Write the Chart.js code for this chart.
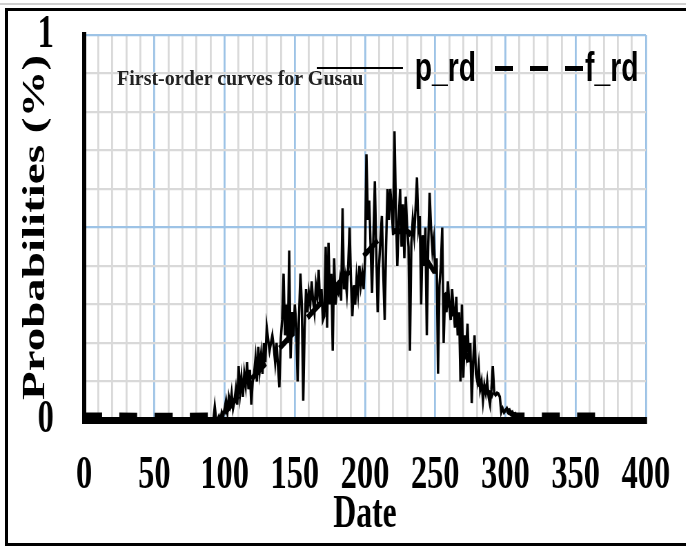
<!DOCTYPE html>
<html>
<head>
<meta charset="utf-8">
<script src="https://cdn.jsdelivr.net/npm/chart.js@4.4.0/dist/chart.umd.min.js"></script>
<style>
html,body{margin:0;background:#fff;width:686px;height:546px;overflow:hidden}
body{position:relative}
#grayline{position:absolute;left:0;top:3px;width:686px;height:2px;background:#cfcfcf}
#frame{position:absolute;left:5px;top:8px;width:681px;height:538px;box-sizing:border-box;border-top:3px solid #000;border-left:3px solid #000;border-bottom:3px solid #000}
#wrap{position:absolute;left:0;top:0;width:994px;height:546px;transform:scaleX(0.69);transform-origin:0 0}
#wrap canvas{position:absolute;left:0;top:0}
.lg{position:absolute;font-family:"Liberation Sans",Arial,sans-serif;font-weight:bold;font-size:41px;line-height:1;color:#000;white-space:nowrap}
#solid{position:absolute;left:459px;top:67px;width:125px;height:2px;background:#000}
#dashed{position:absolute;left:717px;top:65.5px;width:128px;height:5px;background:repeating-linear-gradient(to right,#000 0 26px,transparent 26px 51px)}
#legtitle{position:absolute;left:117px;top:68px;font-family:"Liberation Serif","Times New Roman",serif;font-weight:bold;font-size:20px;line-height:1;color:#222;white-space:nowrap}
</style>
</head>
<body>
<div id="grayline"></div>
<div id="frame"></div>
<div id="wrap">
  <canvas id="chart" width="994" height="546"></canvas>
  <div id="solid"></div>
  <div class="lg" style="left:601px;top:47px">p_rd</div>
  <div id="dashed"></div>
  <div class="lg" style="left:848px;top:47px">f_rd</div>
</div>
<div id="legtitle">First-order curves for Gusau</div>
<script>
// p_rd: one value per day, day 0 .. 365
const pRd = [
  0,0,0,0,0,0,0,0,0,0,
  0,0,0,0,0,0,0,0,0,0,
  0,0,0,0,0,0,0,0,0,0,
  0,0,0,0,0,0,0,0,0,0,
  0,0,0,0,0,0,0,0,0,0,
  0,0,0,0,0,0,0,0,0,0,
  0,0,0,0,0,0,0,0,0,0,
  0,0,0,0,0,0,0,0,0,0,
  0,0,0,0,0,0,0,0,0,0,
  0,0,0,0.035,0,0,0.01,0,0.02,0.01,
  0.03,0.05,0.02,0.06,0.04,0.07,0.03,0.05,0.08,0.04,
  0.14,0.07,0.11,0.06,0.12,0.09,0.15,0.08,0.13,0.04,
  0.10,0.12,0.16,0.10,0.19,0.13,0.17,0.12,0.20,0.15,
  0.24,0.21,0.18,0.20,0.22,0.19,0.15,0.20,0.14,0.085,
  0.21,0.26,0.38,0.22,0.30,0.20,0.44,0.16,0.28,0.22,
  0.30,0.25,0.10,0.27,0.38,0.30,0.05,0.24,0.34,0.28,
  0.33,0.30,0.36,0.31,0.28,0.35,0.32,0.39,0.30,0.34,
  0.26,0.27,0.45,0.24,0.46,0.30,0.38,0.18,0.42,0.30,
  0.34,0.33,0.36,0.31,0.55,0.34,0.37,0.33,0.40,0.50,
  0.36,0.27,0.35,0.30,0.37,0.33,0.40,0.35,0.38,0.34,
  0.42,0.69,0.52,0.57,0.45,0.33,0.48,0.62,0.44,0.28,
  0.40,0.47,0.53,0.38,0.26,0.45,0.60,0.52,0.60,0.55,
  0.48,0.75,0.55,0.40,0.52,0.60,0.45,0.56,0.42,0.58,
  0.50,0.45,0.18,0.46,0.52,0.48,0.55,0.63,0.50,0.53,
  0.30,0.48,0.40,0.50,0.22,0.45,0.59,0.50,0.44,0.47,
  0.38,0.42,0.12,0.35,0.40,0.50,0.20,0.33,0.28,0.36,
  0.30,0.26,0.34,0.29,0.24,0.32,0.22,0.28,0.10,0.30,
  0.11,0.22,0.18,0.25,0.15,0.20,0.044,0.15,0.22,0.12,
  0.10,0.14,0.08,0.10,0.05,0.09,0.07,0.10,0.06,0.04,
  0.08,0.14,0.07,0.065,0.07,0.068,0.06,0.02,0.03,0.02,
  0.025,0.03,0.02,0.025,0.015,0.02,0.01,0.015,0.005,0.01,
  0,0,0,0,0,0,0,0,0,0,
  0,0,0,0,0,0,0,0,0,0,
  0,0,0,0,0,0,0,0,0,0,
  0,0,0,0,0,0,0,0,0,0,
  0,0,0,0,0,0,0,0,0,0,
  0,0,0,0,0,0
];

// f_rd: smoother first-order curve, read at these days
const fDays = [0,95,100,105,110,115,120,125,130,135,140,145,150,155,160,165,170,175,180,185,190,195,200,205,210,215,220,225,230,235,240,245,250,255,260,265,270,275,280,285,290,295,300,305,310,365];
const fRd   = [0.012,0.012,0.02,0.04,0.065,0.09,0.11,0.13,0.15,0.17,0.19,0.21,0.23,0.25,0.27,0.29,0.31,0.33,0.35,0.37,0.39,0.41,0.43,0.45,0.47,0.48,0.49,0.49,0.49,0.47,0.44,0.41,0.38,0.34,0.30,0.25,0.19,0.14,0.10,0.08,0.065,0.05,0.03,0.015,0.012,0.012];

const xLabels = [0,50,100,150,200,250,300,350,400];
const yLabels = [0,1];

const blue = '#9dc3e6'
const gray = '#d9d9d9'
const serif = 'Liberation Serif'
const clear = 'rgba(0,0,0,0)'

var ctx = document.getElementById('chart').getContext('2d')

var chart = new Chart(ctx, {
    type: 'line',
    data: {
        datasets: [{
            label: 'p_rd',
            data: pRd.map((v, i) => ({x: i, y: v})),
            borderColor: '#000',
            borderWidth: 3.5,
            pointRadius: 0,
            tension: 0
        }, {
            label: 'f_rd',
            data: fDays.map((d, i) => ({x: d, y: fRd[i]})),
            borderColor: '#000',
            borderWidth: 6,
            borderDash: [26, 25],
            pointRadius: 0,
            tension: 0.3
        }]
    },
    options: {
        responsive: false,
        animation: false,
        devicePixelRatio: 1,
        layout: {padding: {left: 0, right: 58, top: 35, bottom: 0}},
        plugins: {legend: {display: false}, tooltip: {enabled: false}},
        scales: {
            x: {
                type: 'linear', min: 0, max: 400,
                afterFit: s => { s.height = 126 },
                grid: {
                    color: c => (c.tick && c.tick.value % 50 === 0) ? blue : gray,
                    lineWidth: 2.8, drawTicks: true, tickLength: 32, tickColor: clear
                },
                border: {display: true, color: '#000', width: 7},
                ticks: {
                    stepSize: 10, autoSkip: false, maxRotation: 0, minRotation: 0,
                    padding: 0, color: '#000',
                    font: {family: serif, size: 47, weight: 'bold', lineHeight: 1},
                    callback: v => xLabels.includes(v) ? String(v) : ''
                },
                title: {
                    display: true, text: 'Date', color: '#000',
                    font: {family: serif, size: 46, weight: 'bold', lineHeight: 1},
                    padding: {top: 0, bottom: 8}
                }
            },
            y: {
                min: 0, max: 1,
                afterFit: s => { s.width = 122 },
                grid: {
                    color: c => (c.tick && (Math.abs(c.tick.value - 0.5) < 1e-6 || Math.abs(c.tick.value - 1) < 1e-6)) ? blue : gray,
                    lineWidth: 2.2, drawTicks: true, tickLength: 44, tickColor: clear
                },
                border: {display: true, color: '#000', width: 6},
                ticks: {
                    stepSize: 0.1, autoSkip: false, padding: 0, color: '#000',
                    font: {family: serif, size: 47, weight: 'bold', lineHeight: 1},
                    callback: v => {
                        const hit = yLabels.find(l => Math.abs(l - v) < 1e-6)
                        return hit === undefined ? '' : String(hit)
                    }
                },
                title: {
                    display: true, text: 'Probabilities (%)', color: '#000',
                    font: {family: serif, size: 47, weight: 'bold', lineHeight: 1},
                    padding: {top: 28, bottom: 0}
                }
            }
        }
    }
});
</script>
</body>
</html>
